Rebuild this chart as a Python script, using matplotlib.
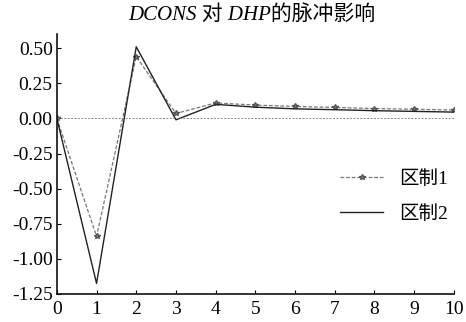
import matplotlib
matplotlib.use('Agg')
import matplotlib.pyplot as plt

# 数据
periods = [0, 1, 2, 3, 4, 5, 6, 7, 8, 9, 10]
regime1 = [0.0, -0.84, 0.44, 0.035, 0.11, 0.095, 0.085, 0.078, 0.07, 0.065, 0.06]
regime2 = [0.0, -1.175, 0.51, -0.01, 0.10, 0.08, 0.068, 0.062, 0.055, 0.05, 0.045]
yticks = [0.50, 0.25, 0.00, -0.25, -0.50, -0.75, -1.00, -1.25]
title = 'DCONS 对 DHP的脉冲影响'
labels = ['区制1', '区制2']

fonts = ['Liberation Serif', 'Noto Sans CJK SC']
plt.rcParams['font.family'] = fonts

fig = plt.figure(figsize=(4.66, 3.22), dpi=100)
ax = fig.add_axes([0.122, 0.087, 0.852, 0.807])

ax.plot(periods, regime1, color='#777777', lw=0.9, linestyle=(0, (3, 1.5)),
        marker='*', markersize=4, markerfacecolor='#888888', markeredgecolor='#555555',
        label=labels[0])
ax.plot(periods, regime2, color='#222222', lw=1.0, label=labels[1])
ax.axhline(0, color='#888888', lw=0.7, linestyle=(0, (2, 1.5)))

ax.set_xlim(0, 10)
ax.set_ylim(-1.25, 0.6)
ax.set_xticks(periods)
ax.set_yticks(yticks)
ax.set_yticklabels(['%.2f' % v for v in yticks])
ax.tick_params(direction='in', length=3, width=0.8, labelsize=14, pad=3)
ax.tick_params(axis='x', pad=5)
for s in ['top', 'right']:
    ax.spines[s].set_visible(False)
for s in ['left', 'bottom']:
    ax.spines[s].set_linewidth(1.2)
    ax.spines[s].set_color('#111111')

fig.text(0.54, 0.955, title, ha='center', va='center', fontsize=15, style='italic')

ax.legend(loc='center left', bbox_to_anchor=(0.67, 0.375), frameon=False,
          fontsize=14, handlelength=2.2, labelspacing=0.9, handletextpad=0.8)

fig.savefig('out.png', dpi=100)
